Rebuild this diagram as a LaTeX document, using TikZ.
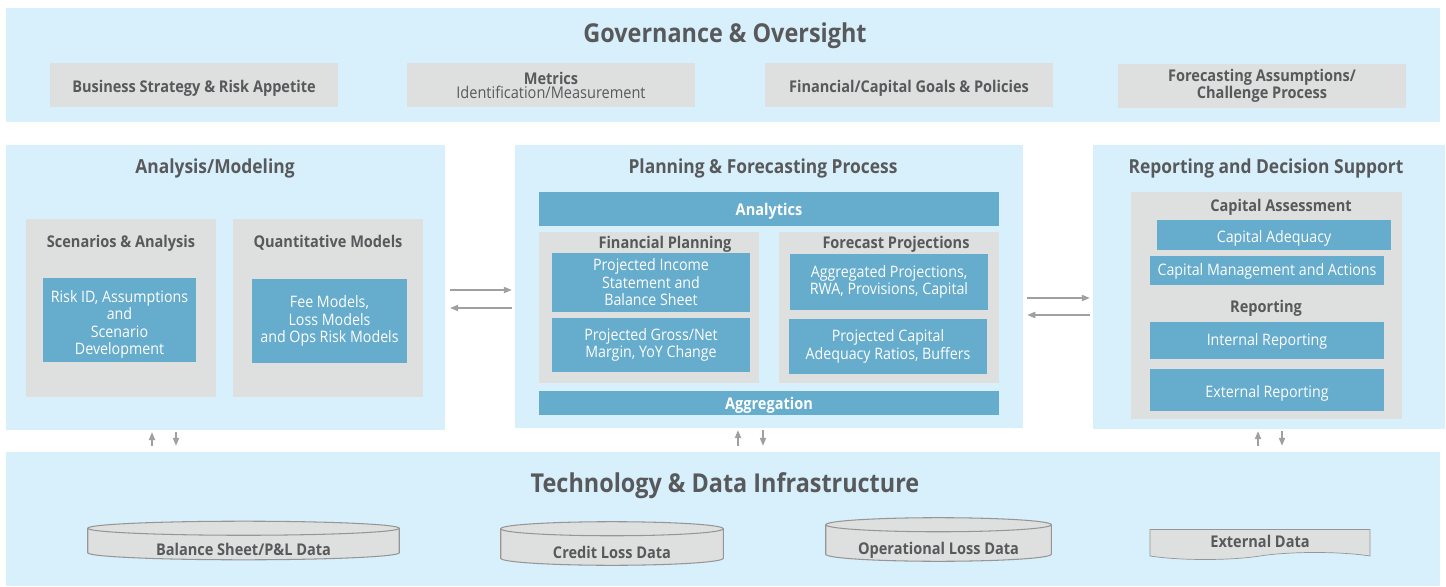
\documentclass[tikz,border=0pt]{standalone}
\usepackage{fontspec}
\setmainfont{Open Sans}[FakeStretch=0.9]
\usetikzlibrary{arrows.meta,shapes.symbols}

\definecolor{bandblue}{RGB}{216,239,252}
\definecolor{boxgray}{RGB}{222,223,223}
\definecolor{tealblue}{RGB}{102,172,204}
\definecolor{inkgray}{RGB}{88,89,91}
\definecolor{flowgray}{RGB}{160,160,160}
\definecolor{rimgray}{RGB}{150,150,150}

\begin{document}
\begin{tikzpicture}[x=0.02cm, y=-0.02cm,
    band/.style={rectangle, fill=bandblue, inner sep=0pt},
    gbox/.style={rectangle, fill=boxgray, inner sep=0pt, text=inkgray},
    bbox/.style={rectangle, fill=tealblue, inner sep=0pt, text=white, align=center, font=\fontsize{9}{10}\selectfont},
    bigttl/.style={text=inkgray, font=\bfseries\fontsize{14.8}{16}\selectfont},
    panelttl/.style={text=inkgray, font=\bfseries\fontsize{11}{12}\selectfont},
    subttl/.style={text=inkgray, font=\bfseries\fontsize{9.2}{10}\selectfont},
    topbox/.style={gbox, minimum width=5.76cm, minimum height=0.88cm, align=center, font=\bfseries\fontsize{9.2}{10}\selectfont},
    barbox/.style={bbox, minimum width=9.2cm, font=\bfseries\fontsize{9.2}{10}\selectfont},
    sink/.style={text height=#1, text depth=2.2pt},
    sink/.default=10.4pt,
    % database drum, drawn inside the node so the label stays on top
    dbase/.style={rectangle, minimum width=#1, inner sep=0pt, sink=19pt, text=inkgray,
      font=\bfseries\fontsize{9.2}{10}\selectfont,
      path picture={
        \filldraw[draw=rimgray, fill=boxgray, line width=0.6pt]
          ([shift={(0.4pt,-4.4pt)}]path picture bounding box.north west)
          -- ([shift={(0.4pt,4.4pt)}]path picture bounding box.south west)
          arc[start angle=180, end angle=360, x radius=0.5*#1-0.4pt, y radius=4pt]
          -- ([shift={(-0.4pt,-4.4pt)}]path picture bounding box.north east)
          arc[start angle=0, end angle=180, x radius=0.5*#1-0.4pt, y radius=4pt] -- cycle;
        \draw[rimgray, line width=0.6pt]
          ([shift={(0.4pt,-4.4pt)}]path picture bounding box.north west)
          arc[start angle=180, end angle=360, x radius=0.5*#1-0.4pt, y radius=4pt];
      }},
    flow/.style={draw=flowgray, line width=0.6pt, -{Triangle[length=4.5pt,width=3.6pt]}}
]
\useasboundingbox[fill=white] (0,0) rectangle (1446,587);

%  -- Governance band --
\node[band, minimum width=28.68cm, minimum height=2.28cm] (gov) at (723,65) {};
\node[bigttl] (govT) at (725,36) {Governance \& Oversight};
\node[topbox, sink] (strat) at (194,85) {Business Strategy \& Risk Appetite};
\node[topbox, font=\fontsize{9.2}{8}\selectfont] (metr) at (551,85) {\textbf{Metrics}\\Identification/Measurement};
\node[topbox, sink] (goals) at (909,85) {Financial/Capital Goals \& Policies};
\node[topbox, font=\bfseries\fontsize{9.2}{9.8}\selectfont] (assum) at (1262,86) {Forecasting Assumptions/\\Challenge Process};

%  -- Analysis/Modeling panel --
\node[band, minimum width=8.78cm, minimum height=5.7cm] (panA) at (225.5,287.5) {};
\node[panelttl] (panAT) at (215,168) {Analysis/Modeling};
\node[gbox, minimum width=3.8cm, minimum height=3.56cm] (scen) at (121,308) {};
\node[subttl] (scenT) at (121,243) {Scenarios \& Analysis};
\node[bbox, minimum width=3.06cm, minimum height=1.68cm] (riskid) at (119.5,320) {\rule{0pt}{12pt}Risk ID, Assumptions\\and\\Scenario\\Development};
\node[gbox, minimum width=3.8cm, minimum height=3.56cm] (quant) at (328,308) {};
\node[subttl] (quantT) at (328,243) {Quantitative Models};
\node[bbox, minimum width=3.1cm, minimum height=1.68cm] (models) at (329.5,321) {Fee Models,\\Loss Models\\and Ops Risk Models};

%  -- Planning & Forecasting panel --
\node[band, minimum width=10.16cm, minimum height=5.66cm] (panB) at (769,286.5) {};
\node[panelttl] (panBT) at (763,168) {Planning \& Forecasting Process};
\node[barbox, minimum height=0.68cm, sink=9.2pt] (analyt) at (769,209) {Analytics};
\node[gbox, minimum width=4.4cm, minimum height=3.02cm] (finpl) at (649,307.5) {};
\node[subttl] (finplT) at (665,244) {Financial Planning};
\node[bbox, minimum width=3.96cm, minimum height=1.18cm] (income) at (651,282.5) {Projected Income\\Statement and\\Balance Sheet};
\node[bbox, minimum width=3.96cm, minimum height=1.08cm] (margin) at (651,345) {Projected Gross/Net\\Margin, YoY Change};
\node[gbox, minimum width=4.4cm, minimum height=3.02cm] (fcast) at (889,307.5) {};
\node[subttl] (fcastT) at (896,244) {Forecast Projections};
\node[bbox, minimum width=3.96cm, minimum height=1.12cm] (aggpr) at (889,282) {Aggregated Projections,\\RWA, Provisions, Capital};
\node[bbox, minimum width=3.96cm, minimum height=1.1cm] (ratios) at (888,346.5) {Projected Capital\\Adequacy Ratios, Buffers};
\node[barbox, minimum height=0.48cm, sink=9.2pt] (aggr) at (769,403) {Aggregation};

%  -- Reporting and Decision Support panel --
\node[band, minimum width=7.04cm, minimum height=5.68cm] (panC) at (1269,287) {};
\node[panelttl] (panCT) at (1266,168) {Reporting and Decision Support};
\node[gbox, minimum width=5.42cm, minimum height=4.54cm] (capas) at (1266.5,305.5) {};
\node[subttl] (capasT) at (1281,207) {Capital Assessment};
\node[bbox, minimum width=4.68cm, minimum height=0.6cm, sink] (capad) at (1274,235) {Capital Adequacy};
\node[bbox, minimum width=4.68cm, minimum height=0.58cm, sink=8pt] (capmg) at (1267,270.5) {Capital Management and Actions};
\node[subttl] (reptT) at (1266,308) {Reporting};
\node[bbox, minimum width=4.68cm, minimum height=0.74cm, sink=8pt] (inrep) at (1267,340.5) {Internal Reporting};
\node[bbox, minimum width=4.68cm, minimum height=0.84cm, sink] (exrep) at (1267,390) {External Reporting};

%  -- Technology & Data band --
\node[band, minimum width=28.68cm, minimum height=2.68cm] (infra) at (723,519) {};
\node[bigttl] (infraT) at (725,486) {Technology \& Data Infrastructure};
\node[dbase=6.26cm, minimum height=0.8cm] (bsdat) at (243.5,540.5) {Balance Sheet/P\&L Data};
\node[dbase=4.48cm, minimum height=0.9cm] (cldat) at (612,543.5) {Credit Loss Data};
\node[dbase=4.54cm, minimum height=0.9cm] (oldat) at (938.5,539.5) {Operational Loss Data};
\node[tape, tape bend top=none, tape bend bottom=in and out, tape bend height=4pt, draw=rimgray, fill=boxgray, minimum width=4.4cm, minimum height=0.6cm, inner sep=0pt, text=inkgray, font=\bfseries\fontsize{9.2}{10}\selectfont] (exdat) at (1260,541) {External Data};

% panel to panel flows
\draw[flow, shorten <=2.8pt, shorten >=1.7pt] (panA.east |- 0,290) -- (panB.west |- 0,290);
\draw[flow, shorten <=1.7pt, shorten >=2.8pt] (panB.west |- 0,308) -- (panA.east |- 0,308);
\draw[flow, shorten <=2.3pt, shorten >=1.7pt] (panB.east |- 0,298) -- (panC.west |- 0,298);
\draw[flow, shorten <=1.7pt, shorten >=2.3pt] (panC.west |- 0,315) -- (panB.east |- 0,315);

% flows to and from the data layer
\foreach \p/\ux/\dx in {panA/152/176, panB/738/763, panC/1258/1282} {
  \draw[flow, shorten <=3.4pt, shorten >=1.1pt] (infra.north -| \ux,0) -- (\p.south -| \ux,0);
  \draw[flow, shorten <=1.1pt, shorten >=3.4pt] (\p.south -| \dx,0) -- (infra.north -| \dx,0);
}

\end{tikzpicture}
\end{document}
